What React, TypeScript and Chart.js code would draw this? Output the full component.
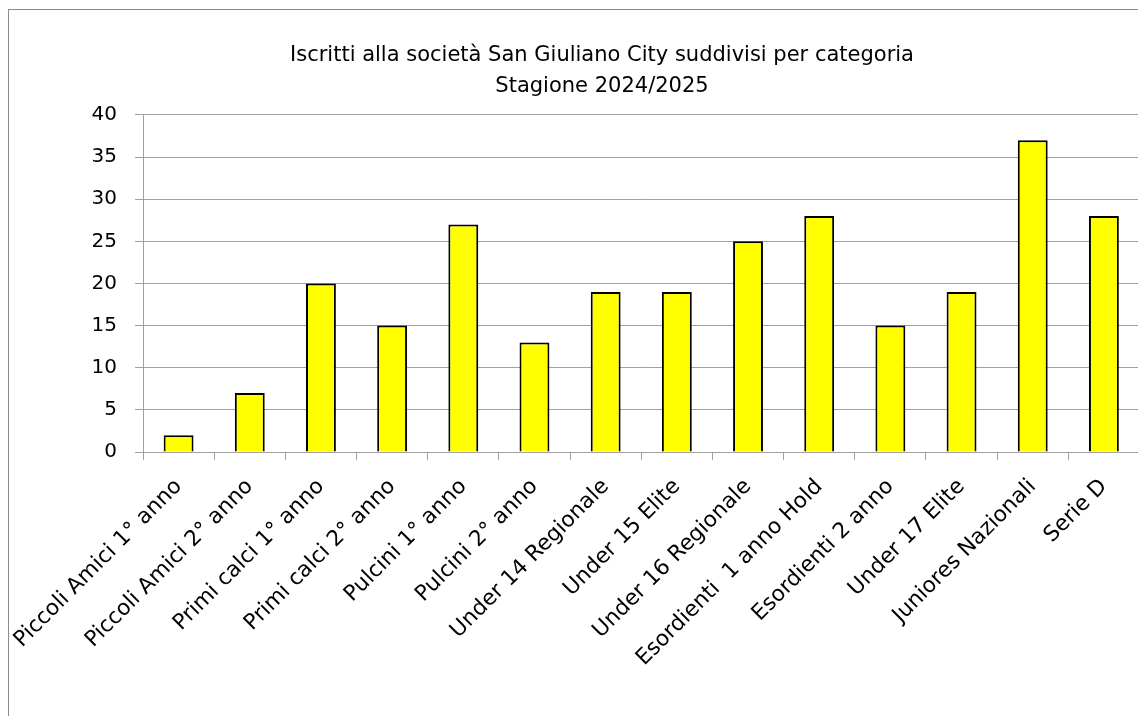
import React, { useEffect, useRef } from "react";
import { Chart, registerables } from "chart.js";

Chart.register(...registerables);

const titleLines = [
  "Iscritti alla società San Giuliano City suddivisi per categoria",
  "Stagione 2024/2025",
];

const categories = [
  "Piccoli Amici 1° anno",
  "Piccoli Amici 2° anno",
  "Primi calci 1° anno",
  "Primi calci 2° anno",
  "Pulcini 1° anno",
  "Pulcini 2° anno",
  "Under 14 Regionale",
  "Under 15 Elite",
  "Under 16 Regionale",
  "Esordienti  1 anno Hold",
  "Esordienti 2 anno",
  "Under 17 Elite",
  "Juniores Nazionali",
  "Serie D",
];

const iscritti = [2, 7, 20, 15, 27, 13, 19, 19, 25, 28, 15, 19, 37, 28];

const yMin = 0;
const yMax = 40;
const yStep = 5;

const FONT = "'DejaVu Sans', Tahoma, Verdana, sans-serif";
const W = 1194;
const H = 716;

export default function App() {
  const ref = useRef<HTMLCanvasElement | null>(null);

  useEffect(() => {
    if (!ref.current) return;
    const chart = new Chart(ref.current, {
      type: "bar",
      data: {
        labels: categories,
        datasets: [
          {
            label: "Iscritti",
            data: iscritti,
            backgroundColor: "#FFFF00",
            borderColor: "#000000",
            borderWidth: 2,
            barPercentage: 0.42,
            categoryPercentage: 1,
          },
        ],
      },
      options: {
        responsive: false,
        animation: false,
        devicePixelRatio: 1,
        layout: { padding: { left: 10, top: 10, right: 0, bottom: 0 } },
        plugins: {
          legend: { display: false },
          tooltip: { enabled: false },
          title: {
            display: true,
            text: titleLines,
            color: "#000",
            font: { family: FONT, size: 21, weight: "normal", lineHeight: 1.476 },
            padding: { top: 30.5, bottom: 12.5 },
          },
        },
        scales: {
          x: {
            grid: {
              display: true,
              drawOnChartArea: false,
              drawTicks: true,
              tickLength: 8,
              color: "#a0a0a0",
              offset: true,
            },
            border: { display: true, color: "#a0a0a0" },
            ticks: {
              color: "#000",
              font: { family: FONT, size: 21.7 },
              maxRotation: 45,
              minRotation: 45,
              autoSkip: false,
              padding: 14,
            },
            afterFit: (s: any) => {
              s.height = 264;
              s.paddingLeft = 0;
              s.paddingRight = 0;
            },
          },
          y: {
            min: yMin,
            max: yMax,
            grid: { color: "#a0a0a0", tickLength: 8 },
            border: { display: true, color: "#a0a0a0" },
            ticks: {
              stepSize: yStep,
              color: "#000",
              font: { family: FONT, size: 20 },
              padding: 18,
            },
            afterFit: (s: any) => {
              s.width = 133;
            },
          },
          y2: {
            axis: "y",
            position: "right",
            display: true,
            grid: { display: false },
            border: { display: false },
            ticks: { display: false },
            afterFit: (s: any) => {
              s.width = W - 1139.5;
            },
          },
        },
      },
    } as any);
    return () => chart.destroy();
  }, []);

  return (
    <div
      style={{
        position: "fixed",
        left: 0,
        top: 0,
        width: "100vw",
        height: "100vh",
        overflow: "hidden",
        background: "#fff",
      }}
    >
      <div
        style={{
          position: "absolute",
          left: 8,
          top: 9,
          width: 1400,
          height: 900,
          border: "1px solid #8c8c8c",
        }}
      />
      <canvas
        ref={ref}
        width={W}
        height={H}
        style={{ position: "absolute", left: 0, top: 0, width: W, height: H }}
      />
    </div>
  );
}
